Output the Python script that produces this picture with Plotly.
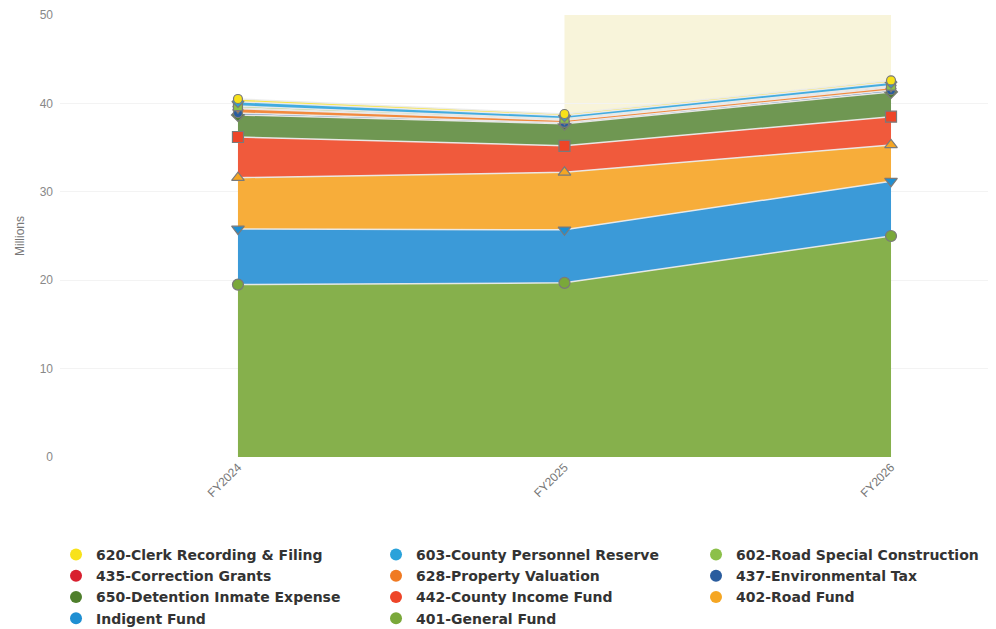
import plotly.graph_objects as go

categories = ["FY2024", "FY2025", "FY2026"]

# stack order bottom -> top
series_names = [
    "401-General Fund", "Indigent Fund", "402-Road Fund", "442-County Income Fund",
    "650-Detention Inmate Expense", "437-Environmental Tax", "628-Property Valuation",
    "435-Correction Grants", "602-Road Special Construction",
    "603-County Personnel Reserve", "620-Clerk Recording & Filing",
]
general_fund = [19.5, 19.7, 25.0]
indigent_fund = [6.3, 6.0, 6.2]
road_fund = [5.8, 6.5, 4.1]
county_income = [4.6, 3.0, 3.2]
detention = [2.5, 2.5, 2.8]
environmental = [0.2, 0.1, 0.2]
property_valuation = [0.5, 0.3, 0.3]
correction_grants = [0.1, 0.05, 0.1]
road_special = [0.2, 0.1, 0.1]
personnel_reserve = [0.5, 0.35, 0.4]
clerk_recording = [0.3, 0.2, 0.2]

series_values = [general_fund, indigent_fund, road_fund, county_income, detention,
                 environmental, property_valuation, correction_grants, road_special,
                 personnel_reserve, clerk_recording]
colors = ["#7aa83a", "#1f8fd2", "#f5a623", "#ee4528", "#4f7f2c", "#2a5c9e",
          "#f07a22", "#d81f2f", "#8cc04a", "#2aa2da", "#f8e21a"]
fill_colors = ["#86b04c", "#3b9ad8", "#f7ad3a", "#f05a3c", "#6f9752", "#3f6eaa",
               "#f28a3e", "#dc3a46", "#9cc860", "#42ace0", "#f9e640"]
symbols = ["circle", "triangle-down", "triangle-up", "square", "diamond", "circle",
           "triangle-down", "triangle-up", "square", "diamond", "circle"]
marker_sizes = [11, 11, 11, 11, 10, 9, 9, 9, 9, 9, 9]

fig = go.Figure()

# plot band FY2025 -> FY2026
fig.add_shape(type="rect", xref="x", yref="y", x0=1, x1=2, y0=0, y1=50,
              fillcolor="#f8f4da", line_width=0, layer="below")

for name, vals, col, fcol, sym, ms in zip(series_names, series_values, colors,
                                          fill_colors, symbols, marker_sizes):
    fig.add_trace(go.Scatter(
        x=categories, y=vals, name=name, stackgroup="one", mode="lines+markers",
        line=dict(color="rgba(235,235,235,0.95)", width=1.5),
        fillcolor=fcol,
        marker=dict(symbol=sym, size=ms, color=col, line=dict(color="#7a7a7a", width=1.2)),
        showlegend=False, hoverinfo="x+y+name",
    ))

# legend entries (row-major, reversed stack order)
for name, col in zip(series_names, colors):
    fig.add_trace(go.Scatter(
        x=[None], y=[None], name=name, mode="markers",
        marker=dict(symbol="circle", size=14, color=col), showlegend=True,
    ))

fig.update_layout(
    width=988, height=621,
    margin=dict(l=52, r=8, t=7, b=172, autoexpand=False),
    paper_bgcolor="white", plot_bgcolor="white",
    font=dict(family="Liberation Sans, Arial, sans-serif", color="#666"),
    showlegend=True,
    legend=dict(
        orientation="h", traceorder="reversed", x=-0.0043, xanchor="left",
        y=-0.1855, yanchor="top", entrywidth=275, entrywidthmode="pixels",
        font=dict(family="DejaVu Sans, sans-serif", size=14, color="#333", weight="bold"),
        itemsizing="constant", tracegroupgap=0,
    ),
    xaxis=dict(
        type="category", range=[-0.545, 2.297], tickangle=-45,
        showgrid=False, zeroline=False, showline=False, ticks="",
        tickfont=dict(size=12, color="#777"),
    ),
    yaxis=dict(
        range=[0, 50], tickvals=[0, 10, 20, 30, 40, 50], showgrid=True,
        gridcolor="#f3f3f3", zeroline=False, showline=False, automargin=False,
        tickfont=dict(size=12, color="#888"), ticklabelstandoff=6,
        title=dict(text="Millions", font=dict(size=12, color="#777"), standoff=12),
    ),
)

fig.write_html("out.html")
